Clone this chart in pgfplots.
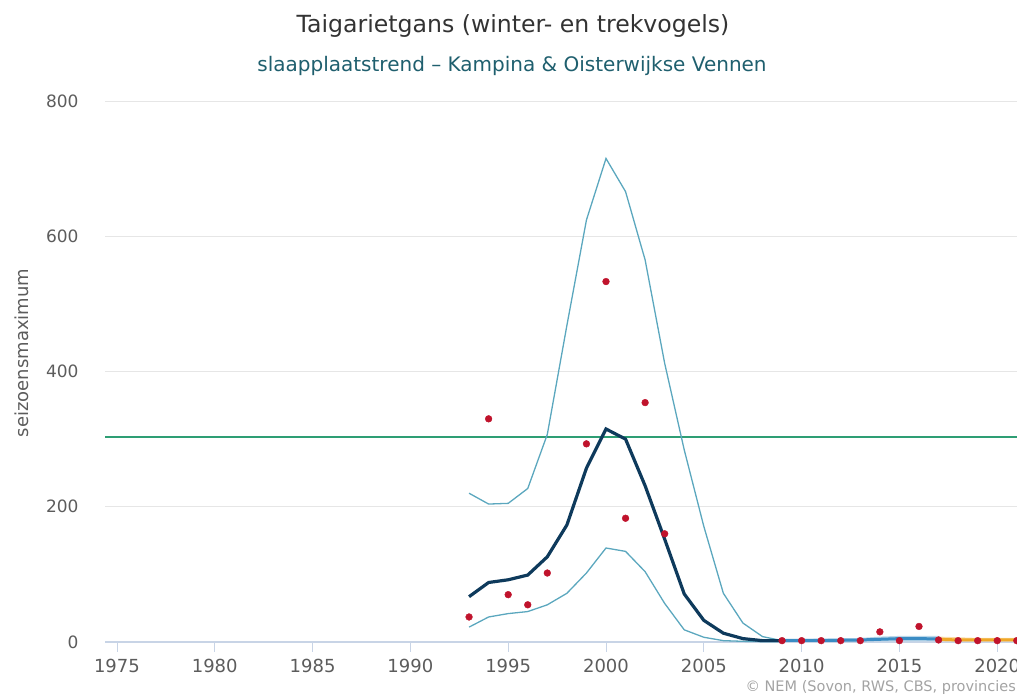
\documentclass[border=0pt]{standalone}
\usepackage{pgfplots}
\pgfplotsset{compat=1.18}
\usepackage{fontspec}
\setmainfont{DejaVu Sans}
\definecolor{titlec}{HTML}{333333}
\definecolor{subc}{HTML}{1F5F6E}
\definecolor{trend}{HTML}{0E3A5C}
\definecolor{band}{HTML}{5BA7BE}
\definecolor{dots}{HTML}{C0132C}
\definecolor{refl}{HTML}{2E9E74}
\definecolor{tailb}{HTML}{3A8CC4}
\definecolor{tailo}{HTML}{F0A828}
\definecolor{gridc}{HTML}{E6E6E6}
\definecolor{axc}{HTML}{C8D4E6}
\begin{document}
\begin{tikzpicture}
\path[use as bounding box] (0pt,0pt) rectangle (1017pt,698pt);
\begin{axis}[
  at={(105pt,56pt)}, anchor=south west,
  scale only axis, width=912pt, height=541pt,
  xmin=1974.39, xmax=2021.01, ymin=0, ymax=800,
  clip=false,
  axis x line*=bottom, axis y line*=left,
  x axis line style={draw=axc, line width=1.2pt, -},
  y axis line style={draw=none},
  xtick={1975,1980,...,2020},
  ytick={0,200,400,600,800},
  xticklabels={1975,1980,1985,1990,1995,2000,2005,2010,2015,2020},
  x tick label style={font=\fontsize{18}{18}\selectfont\color{titlec!80}, yshift=-4pt},
  y tick label style={font=\fontsize{17}{17}\selectfont\color{titlec!80}, xshift=-13pt},
  yticklabel={\pgfmathprintnumber[assume math mode=true]{\tick}},
  tick align=outside,
  major tick length=10pt,
  xtick style={draw=axc, line width=0.8pt},
  ytick style={draw=none},
  ymajorgrids, grid style={draw=gridc, line width=1pt},
]
% tail bands
\addplot[draw=none, fill=tailb!35, forget plot] coordinates {(2009,1) (2011,1) (2013,1) (2015,1) (2017,1) (2017,9) (2016,9) (2015,9) (2014,8) (2013,6) (2011,5) (2009,4)} -- cycle;
\addplot[draw=none, fill=tailo!40, forget plot] coordinates {(2017,1) (2019,1) (2021,1) (2021,6) (2019,6) (2017,8)} -- cycle;
\addplot[tailb, line width=3pt] coordinates {(2009,2.5) (2010,2.5) (2011,2.5) (2012,2.5) (2013,3) (2014,4) (2015,5) (2016,5) (2017,4.5)};
\addplot[tailo, line width=3pt] coordinates {(2017,4) (2018,3) (2019,3) (2020,3) (2021,3)};
% reference line
\addplot[refl, line width=1.5pt] coordinates {(1974.39,303) (2021.01,303)};
% confidence bands
\addplot[band, line width=1.3pt] coordinates {
(1993,220) (1994,204) (1995,205) (1996,227) (1997,307) (1998,468) (1999,624) (2000,715) (2001,666) (2002,565) (2003,412) (2004,284) (2005,171) (2006,72) (2007,28) (2008,8) (2009,2)};
\addplot[band, line width=1.3pt] coordinates {
(1993,22) (1994,37) (1995,42) (1996,45) (1997,55) (1998,72) (1999,102) (2000,139) (2001,134) (2002,104) (2003,57) (2004,18) (2005,7) (2006,2) (2007,1) (2008,0.5) (2009,0.5)};
% trend
\addplot[trend, line width=3.2pt] coordinates {
(1993,67) (1994,88) (1995,92) (1996,99) (1997,126) (1998,173) (1999,257) (2000,315) (2001,300) (2002,231) (2003,152) (2004,71) (2005,32) (2006,13) (2007,5) (2008,2) (2009,2)};
% counts
\addplot[only marks, mark=*, mark size=3.4pt, dots] coordinates {
(1993,37) (1994,330) (1995,70) (1996,55) (1997,102) (1999,293) (2000,533) (2001,183) (2002,354) (2003,160)
(2009,2) (2010,2) (2011,2) (2012,2) (2013,2) (2014,15) (2015,2) (2016,23) (2017,3) (2018,2) (2019,2) (2020,2) (2021,2)};
\end{axis}
\node[font=\fontsize{23.6}{24}\selectfont, text=titlec, anchor=base] at (513pt,665pt) {Taigarietgans (winter- en trekvogels)};
\node[font=\fontsize{20}{20}\selectfont, text=subc, anchor=base] at (512pt,626pt) {slaapplaatstrend – Kampina \& Oisterwijkse Vennen};
\node[font=\fontsize{18}{18}\selectfont, text=titlec!80, rotate=90] at (22pt,345pt) {seizoensmaximum};
\node[font=\fontsize{14.5}{14.5}\selectfont, text=titlec!45, anchor=west] at (742pt,10pt) {\textcopyright\ NEM (Sovon, RWS, CBS, provincies)};
\end{tikzpicture}
\end{document}
